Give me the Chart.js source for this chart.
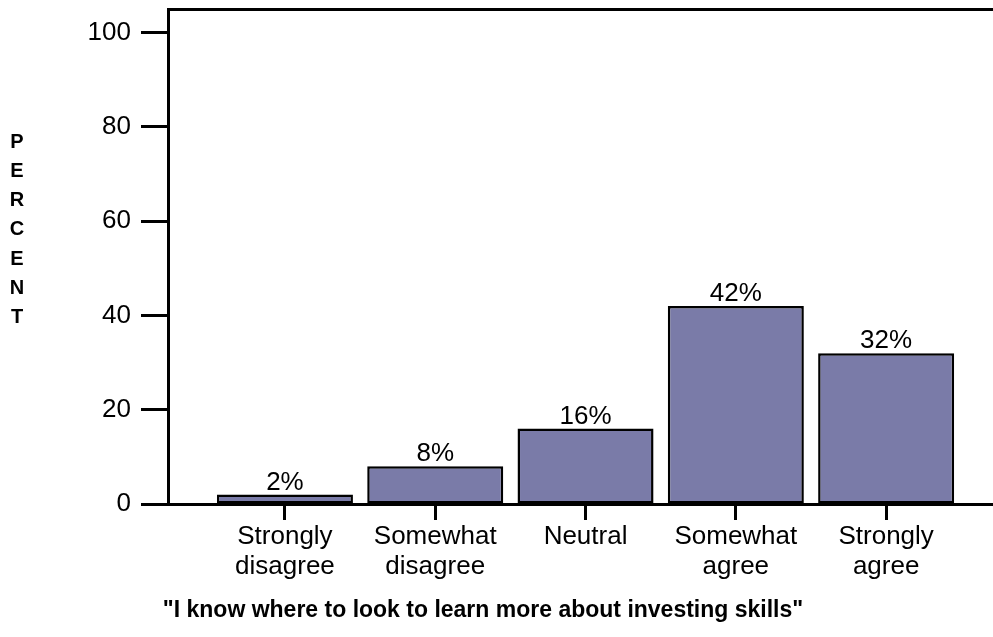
<!DOCTYPE html>
<html>
<head>
<meta charset="utf-8">
<script src="https://cdn.jsdelivr.net/npm/chart.js@4.4.1/dist/chart.umd.min.js"></script>
<style>
  html, body { margin: 0; padding: 0; background: #fff; }
  #wrap { width: 993px; height: 637px; position: relative; }
</style>
</head>
<body>
<div id="wrap"><canvas id="investChart"></canvas></div>
<script>
// survey responses, percent of respondents
const categories = [
  ['Strongly', 'disagree'],
  ['Somewhat', 'disagree'],
  ['Neutral'],
  ['Somewhat', 'agree'],
  ['Strongly', 'agree']
];
const percents = [2, 8, 16, 42, 32];
const yTicks = [0, 20, 40, 60, 80, 100];

const xTitle = '"I know where to look to learn more about investing skills"';
const yTitle = 'PERCENT';

const FONT = '"Liberation Sans", Arial, Helvetica, sans-serif';

// keep the axes from reserving extra room for overhanging labels
const noPad = (scale) => {
  scale.paddingTop = 0;
  scale.paddingBottom = 0;
  scale.paddingLeft = 0;
  scale.paddingRight = 0;
};

// bar value labels plus the two axis titles
const annotate = {
  id: 'annotate',
  afterDatasetsDraw(chart) {
    const ctx = chart.ctx;
    const meta = chart.getDatasetMeta(0);
    ctx.save();
    ctx.fillStyle = '#000';
    ctx.font = '26px ' + FONT;
    ctx.textAlign = 'center';
    ctx.textBaseline = 'bottom';
    meta.data.forEach((bar, i) => {
      ctx.fillText(percents[i] + '%', bar.x, bar.y + 1);
    });

    ctx.font = 'bold 20px ' + FONT;
    ctx.textBaseline = 'middle';
    yTitle.split('').forEach((ch, i) => {
      ctx.fillText(ch, 17, 142 + i * 29.3);
    });

    ctx.font = 'bold 23px ' + FONT;
    ctx.fillText(xTitle, 483, 611);
    ctx.restore();
  }
};

new Chart(document.getElementById('investChart'), {
  type: 'bar',
  data: {
    datasets: [{
      data: percents.map((v, i) => ({ x: i + 1, y: v })),
      backgroundColor: '#7a7ba8',
      borderColor: '#000',
      borderWidth: 2.5,
      borderSkipped: false,
      barPercentage: 0.905,
      categoryPercentage: 1
    }]
  },
  options: {
    responsive: true,
    maintainAspectRatio: false,
    animation: false,
    layout: { padding: 0 },
    plugins: { legend: { display: false }, tooltip: { enabled: false } },
    scales: {
      x: {
        type: 'linear',
        offset: false,
        min: 0.222,
        max: 5.711,
        afterBuildTicks(scale) {
          scale.ticks = categories.map((c, i) => ({ value: i + 1 }));
        },
        afterFit(scale) { scale.height = 133; noPad(scale); },
        grid: {
          offset: false,
          drawOnChartArea: false,
          color: '#000',
          tickLength: 16,
          tickWidth: 3
        },
        border: { color: '#000', width: 3 },
        ticks: {
          color: '#000',
          font: { family: FONT, size: 26, lineHeight: 1.15 },
          padding: 2,
          maxRotation: 0,
          autoSkip: false,
          callback: (v) => categories[v - 1]
        }
      },
      xTop: {
        type: 'linear',
        position: 'top',
        offset: false,
        min: 0,
        max: 1,
        afterFit(scale) { scale.height = 9; noPad(scale); },
        grid: { drawOnChartArea: false, drawTicks: false },
        border: { color: '#000', width: 3 },
        ticks: { display: false }
      },
      y: {
        min: 0,
        max: 105,
        afterBuildTicks(scale) {
          scale.ticks = yTicks.map(v => ({ value: v }));
        },
        afterFit(scale) { scale.width = 168; noPad(scale); },
        grid: {
          drawOnChartArea: false,
          color: '#000',
          tickLength: 27,
          tickWidth: 3
        },
        border: { color: '#000', width: 3 },
        ticks: {
          color: '#000',
          font: { family: FONT, size: 26 },
          padding: 10
        }
      }
    }
  },
  plugins: [annotate]
});
</script>
</body>
</html>
